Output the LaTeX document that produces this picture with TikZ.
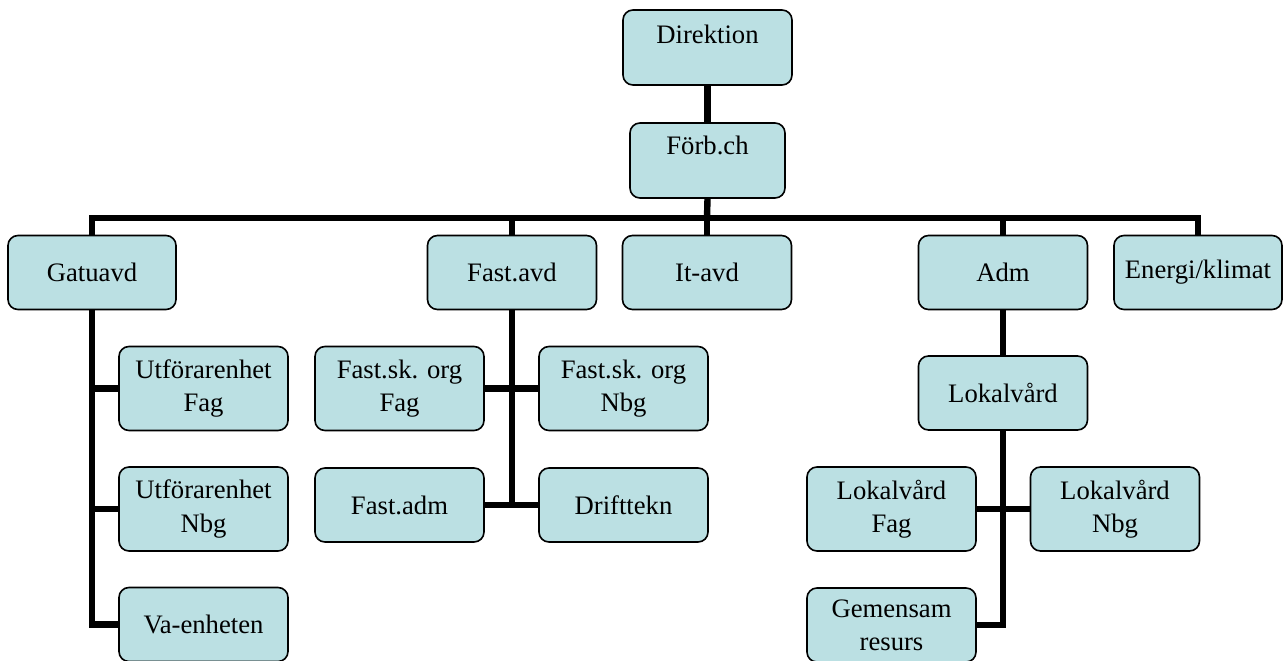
\documentclass[tikz,border=0pt]{standalone}
\usepackage{fontspec}
\setmainfont{Liberation Serif}
\definecolor{boxfill}{RGB}{187,224,227}
\begin{document}
\begin{tikzpicture}[x=0.75pt,y=-0.75pt,
  orgbox/.style={draw=black, line width=1.2pt, fill=boxfill, rounded corners=7.5pt,
    minimum width=126.75pt, minimum height=55.5pt, inner sep=0pt, align=center,
    font=\fontsize{20}{25}\selectfont},
  tallbox/.style={orgbox, minimum height=63pt},
  conn/.style={line width=4.8pt, line join=miter}]
\useasboundingbox (0,0) rectangle (1283,661);
% boxes
\node[orgbox, minimum height=56.25pt] (dir) at (707.5,47.5) {\raisebox{9.5pt}[\height][\depth]{Direktion}};
\node[orgbox, minimum height=56.25pt, minimum width=116.25pt] (forb) at (707.5,160.5) {\raisebox{11pt}[\height][\depth]{Förb.ch}};
\node[orgbox, minimum width=126pt] (gat) at (92,272.5) {Gatuavd};
\node[orgbox] (fast) at (512,272.5) {Fast.avd};
\node[orgbox] (it) at (707,272.5) {It-avd};
\node[orgbox] (adm) at (1003,272.5) {Adm};
\node[orgbox, minimum width=126pt] (ene) at (1198,272.5) {Energi/klimat};
\node[tallbox] (uf) at (203.5,388.5) {Utförarenhet\\Fag};
\node[tallbox] (un) at (203.5,509) {Utförarenhet\\Nbg};
\node[orgbox] (va) at (203.5,624.5) {Va-enheten};
\node[tallbox] (fsf) at (399.5,388.5) {Fast.sk. org\\Fag};
\node[tallbox] (fsn) at (623.5,388.5) {Fast.sk. org\\Nbg};
\node[orgbox] (fadm) at (399.5,505) {Fast.adm};
\node[orgbox] (drift) at (623.5,505) {Drifttekn};
\node[orgbox] (lok) at (1003,393) {Lokalvård};
\node[tallbox] (lf) at (891.5,509) {Lokalvård\\Fag};
\node[tallbox] (ln) at (1115,509) {Lokalvård\\Nbg};
\node[orgbox] (gem) at (891.5,625) {Gemensam\\resurs};
\coordinate (bar) at (707,218);
% connectors
\draw[conn] (dir.south) -- (forb.north);
\draw[conn] (forb.south) -- (bar);
\draw[conn] (gat.north) -- (gat.north |- bar) -- (ene.north |- bar) -- (ene.north);
\draw[conn] (fast.north |- bar) -- (fast.north);
\draw[conn] (it.north |- bar) -- (it.north);
\draw[conn] (adm.north |- bar) -- (adm.north);
% Gatuavd branch
\draw[conn] (gat.south) -- (gat.south |- va.west) -- (va.west);
\draw[conn] (gat.south |- uf.west) -- (uf.west);
\draw[conn] (gat.south |- un.west) -- (un.west);
% Fast.avd branch
\draw[conn] (fast.south) -- (fast.south |- fadm.east);
\draw[conn] (fsf.east) -- (fsn.west);
\draw[conn] (fadm.east) -- (drift.west);
% Adm branch
\draw[conn] (adm.south) -- (lok.north);
\draw[conn] (lok.south) -- (lok.south |- gem.east) -- (gem.east);
\draw[conn] (lf.east) -- (ln.west);
\end{tikzpicture}
\end{document}
